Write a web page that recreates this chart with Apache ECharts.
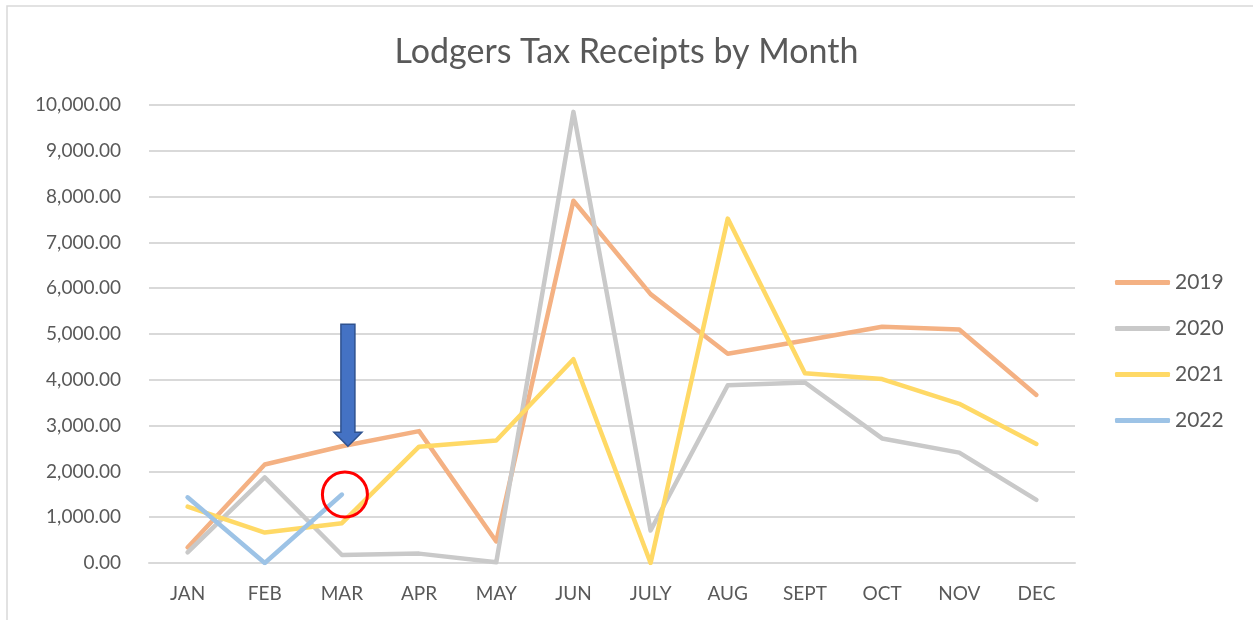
<!DOCTYPE html>
<html>
<head>
<meta charset="utf-8">
<style>
  html, body { margin: 0; padding: 0; background: #ffffff; }
  #chart { width: 1253px; height: 620px; }
</style>
<script src="https://cdn.jsdelivr.net/npm/echarts@6/dist/echarts.min.js"></script>
</head>
<body>
<div id="chart"></div>
<script>
// Months on the category axis
const months = ['JAN', 'FEB', 'MAR', 'APR', 'MAY', 'JUN', 'JULY', 'AUG', 'SEPT', 'OCT', 'NOV', 'DEC'];

// Monthly receipts per year
const receipts2019 = [340, 2150, 2550, 2880, 470, 7910, 5870, 4570, 4860, 5160, 5100, 3670];
const receipts2020 = [230, 1870, 175, 205, 15, 9850, 710, 3880, 3940, 2720, 2410, 1380];
const receipts2021 = [1230, 665, 870, 2540, 2675, 4450, 0, 7520, 4145, 4015, 3475, 2600];
const receipts2022 = [1435, 0, 1495];

// Value axis ticks
const yMin = 0, yMax = 10000, yStep = 1000;

const FONT = 'Lato, "Noto Sans", sans-serif';
const TEXT = '#595959';

const chart = echarts.init(document.getElementById('chart'), null, { renderer: 'canvas' });

function lineSeries(name, data, color) {
  return {
    name: name,
    type: 'line',
    data: data,
    symbol: 'none',
    smooth: false,
    lineStyle: { color: color, width: 4.5, cap: 'round', join: 'round' },
    itemStyle: { color: color },
    emphasis: { disabled: true }
  };
}

chart.setOption({
  animation: false,
  backgroundColor: '#ffffff',
  title: {
    text: 'Lodgers Tax Receipts by Month',
    left: 'center',
    top: 30,
    textStyle: { fontFamily: FONT, fontSize: 34, fontWeight: 'normal', color: TEXT }
  },
  legend: {
    orient: 'vertical',
    left: 1110,
    top: 267,
    icon: 'roundRect',
    itemWidth: 55,
    itemHeight: 5,
    itemGap: 25,
    textStyle: { fontFamily: FONT, fontSize: 21, color: TEXT },
    data: ['2019', '2020', '2021', '2022']
  },
  grid: { left: 149, right: 178, top: 105, bottom: 57, containLabel: false },
  xAxis: {
    type: 'category',
    data: months,
    boundaryGap: true,
    axisLine: { show: true, lineStyle: { color: '#d9d9d9', width: 2 } },
    axisTick: { show: false },
    axisLabel: { fontFamily: FONT, fontSize: 19, color: TEXT, margin: 21 },
    splitLine: { show: false }
  },
  yAxis: {
    type: 'value',
    min: yMin,
    max: yMax,
    interval: yStep,
    axisLine: { show: false },
    axisTick: { show: false },
    axisLabel: {
      fontFamily: FONT, fontSize: 19, color: TEXT, margin: 28,
      formatter: v => v.toLocaleString('en-US', { minimumFractionDigits: 2, maximumFractionDigits: 2 })
    },
    splitLine: { show: true, lineStyle: { color: '#d9d9d9', width: 2 } }
  },
  series: [
    lineSeries('2019', receipts2019, '#F4B183'),
    lineSeries('2020', receipts2020, '#C9C9C9'),
    lineSeries('2021', receipts2021, '#FFD966'),
    lineSeries('2022', receipts2022, '#9DC3E6')
  ]
});

// Callouts: a down arrow onto the March 2019 point and a ring around March 2022
const tip = chart.convertToPixel({ seriesIndex: 0 }, [2, receipts2019[2]]);
const ring = chart.convertToPixel({ seriesIndex: 3 }, [2, receipts2022[2]]);
const ax = tip[0] + 6, ay = tip[1];

chart.setOption({
  graphic: [
    {
      type: 'rect',
      shape: { x: 7, y: 6, width: 1400, height: 800 },
      style: { fill: 'none', stroke: '#d9d9d9', lineWidth: 1.5 },
      silent: true, z: 0
    },
    {
      type: 'polygon',
      shape: {
        points: [
          [ax - 7, ay - 122], [ax + 7, ay - 122], [ax + 7, ay - 14], [ax + 14, ay - 14],
          [ax, ay], [ax - 14, ay - 14], [ax - 7, ay - 14]
        ]
      },
      style: { fill: '#4472C4', stroke: '#2F528F', lineWidth: 1.5 },
      silent: true, z: 100
    },
    {
      type: 'circle',
      shape: { cx: ring[0] + 3, cy: ring[1], r: 22.5 },
      style: { fill: 'none', stroke: '#FF0000', lineWidth: 3 },
      silent: true, z: 100
    }
  ]
});
</script>
</body>
</html>
